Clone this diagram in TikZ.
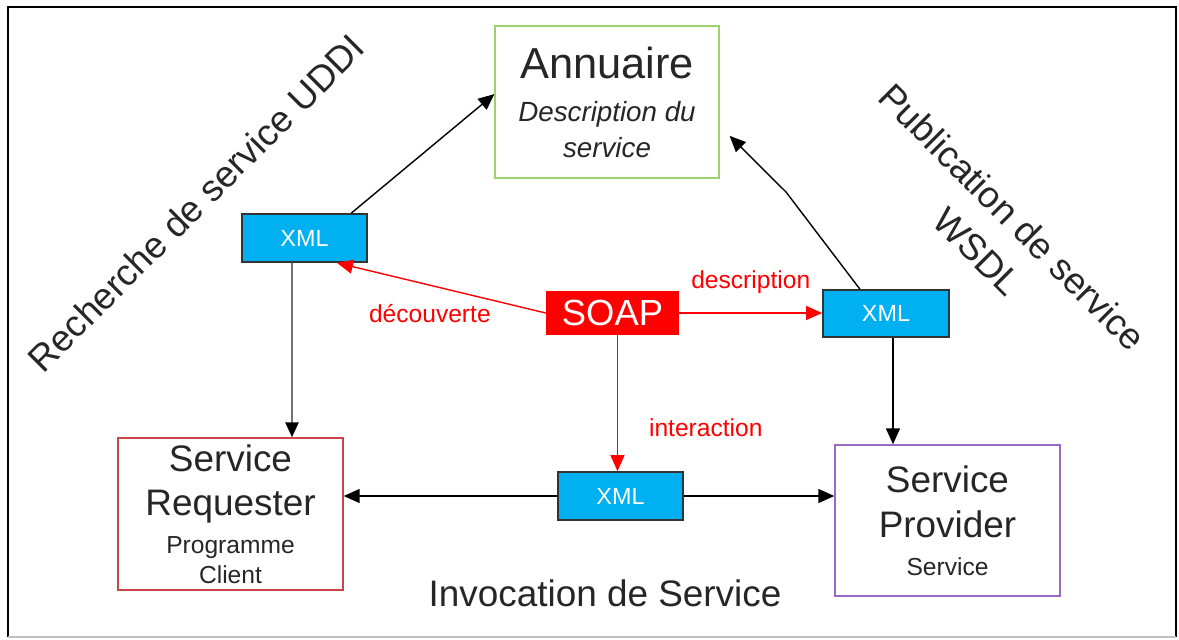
\documentclass[tikz,border=0pt]{standalone}
\usepackage{fontspec}
\setmainfont{Liberation Sans}
\usetikzlibrary{arrows.meta}
\definecolor{xmlblue}{RGB}{0,176,240}
\definecolor{soapred}{RGB}{255,0,0}
\definecolor{annuairegreen}{RGB}{155,210,110}
\definecolor{requesterred}{RGB}{200,70,72}
\definecolor{providerpurple}{RGB}{155,105,200}
\newcommand{\bigtext}{\fontsize{21}{25}\selectfont}
\tikzset{
  box/.style={draw, line width=0.8pt, minimum width=4.5cm, minimum height=3.04cm, align=center, text=black!85, inner sep=0pt, font=\fontsize{14}{17}\selectfont},
  xmlbox/.style={draw=black!80, line width=1pt, fill=xmlblue, text=white, minimum width=2.5cm, minimum height=0.96cm, inner sep=0pt, font=\fontsize{13.3}{16}\selectfont},
  arr/.style={line width=0.8pt, -{Triangle[length=0.32cm,width=0.28cm]}},
  redarr/.style={arr, soapred},
  redlabel/.style={text=soapred, font=\fontsize{14}{17}\selectfont},
  biglabel/.style={text=black!85, align=center, font=\fontsize{21}{28}\selectfont}
}
\begin{document}
\begin{tikzpicture}[x=0.02cm, y=-0.02cm]
\useasboundingbox (0,0) rectangle (1179,639);
\draw[line width=1.2pt] (8,637) -- (8,7) -- (1176,7) -- (1176,637);
\draw[line width=1.2pt, black!25] (8,637) -- (1176,637);

\node[box, draw=annuairegreen, minimum width=4.48cm, font=\fontsize{15.8}{20}\selectfont\itshape] (annuaire) at (607,102)
    {{\upshape\fontsize{24.7}{30}\selectfont Annuaire}\\[5pt] Description du\\ service};
\node[box, draw=requesterred] (requester) at (230.5,514)
    {{\bigtext Service}\\[8.5pt] {\bigtext Requester}\\[4.5pt] Programme\\ Client};
\node[box, draw=providerpurple, minimum height=3.02cm] (provider) at (947.5,520.5)
    {{\bigtext Service}\\[8.5pt] {\bigtext Provider}\\[4.5pt] Service};

\node[xmlbox] (xmlA) at (304.5,238) {XML};
\node[xmlbox, minimum width=2.52cm, minimum height=0.94cm] (xmlB) at (886,313.5) {XML};
\node[xmlbox] (xmlC) at (620.5,496) {XML};
\node[fill=soapred, text=white, minimum width=2.66cm, minimum height=0.88cm, inner sep=0pt,
    font=\fontsize{20.7}{24}\selectfont] (soap) at (612.5,313) {SOAP};

\draw[arr] (xmlA.28) -- (annuaire.176);
\draw[arr, shorten >=0.28cm] (xmlB.137) -- (786,192) -- (annuaire.-12);
\draw[arr, line width=1.4pt, black!55, -{Triangle[length=0.3cm,width=0.26cm,color=black]}]
    ([xshift=-0.25cm]xmlA.south) -- ([xshift=-0.25cm]xmlA.south |- requester.north);
\draw[arr] ([xshift=0.14cm]xmlB.south) -- ([xshift=0.14cm]xmlB.south |- provider.north);
\draw[arr] (xmlC.west) -- (xmlC.west -| requester.east);
\draw[arr] (xmlC.east) -- (xmlC.east -| provider.west);

\draw[redarr] (soap.west) -- ([xshift=0.65cm]xmlA.south) node[pos=0.555, redlabel, below=0.25cm] (decouverte) {découverte};
\draw[redarr] (soap.east) -- (soap.east -| xmlB.west) node[pos=0.5, redlabel, above=0.25cm] (description) {description};
\draw[redarr] ([xshift=0.1cm]soap.south) -- ([xshift=0.1cm]soap.south |- xmlC.north) node[pos=0.68, redlabel, right=0.5cm] (interaction) {interaction};

\node[biglabel] (invocation) at (605,593) {Invocation de Service};
\node[biglabel, rotate=45] (recherche) at (196,203) {Recherche de service UDDI};
\node[biglabel, rotate=-45] (publication) at (995,234) {Publication de service\\WSDL};
\end{tikzpicture}
\end{document}
